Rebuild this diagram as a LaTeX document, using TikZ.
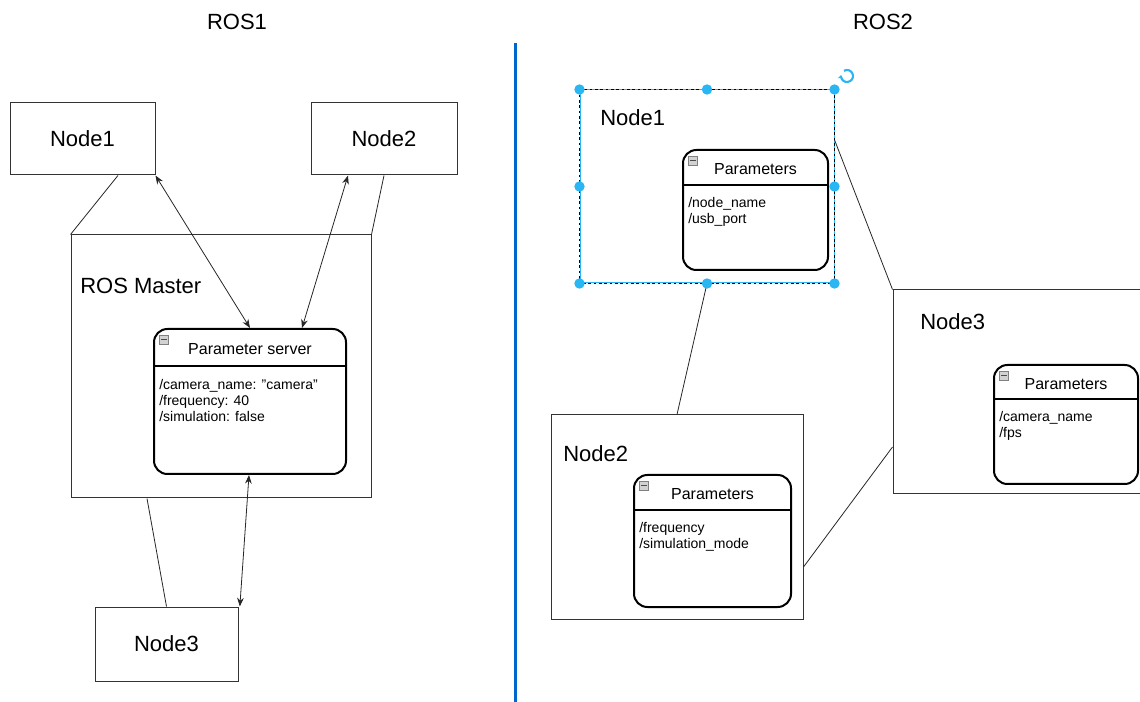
\documentclass[tikz,border=0pt]{standalone}
\usepackage{fontspec}
\setmainfont{Liberation Sans}
\usepackage{tikz}
\usetikzlibrary{arrows.meta}

\definecolor{sepblue}{HTML}{0066CC}
\definecolor{handleblue}{HTML}{29B6F2}

\begin{document}
\begin{tikzpicture}[x=0.75pt,y=-0.75pt,
  box/.style={draw=black!80,line width=0.75pt,inner sep=0pt},
  parambox/.style={draw=black,line width=1.5pt,rounded corners=10pt,inner sep=0pt},
  big/.style={font=\fontsize{16.5}{20}\selectfont},
  ptitle/.style={font=\fontsize{12}{14}\selectfont},
  pitems/.style={font=\fontsize{10.5}{12}\selectfont,align=left,inner sep=0pt,anchor=north west},
  icon/.style={draw=gray,fill=gray!35,minimum size=7pt,inner sep=0pt,anchor=north west,
    path picture={\draw[black!70,line width=0.9pt] ([xshift=1.4pt]path picture bounding box.west) -- ([xshift=-1.4pt]path picture bounding box.east);}},
  biarrow/.style={{Stealth[length=6.5pt,width=5pt]}-{Stealth[length=6.5pt,width=5pt]},black!85,line width=0.6pt},
  link/.style={black!85,line width=0.6pt}]
\useasboundingbox (0,0) rectangle (1140,702);

% titles and separator
\node[big] (ros1) at (237,22) {ROS1};
\node[big] (ros2) at (883,22) {ROS2};
\coordinate (septop) at (515,43);
\coordinate (sepbot) at (515,702);
\draw[sepblue,line width=2.25pt] (septop) -- (sepbot);

% ROS1
\node[box,big,minimum width=108.75pt,minimum height=54pt] (a1) at (82.5,139) {Node1};
\node[box,big,minimum width=109.5pt,minimum height=54pt] (a2) at (384,139) {Node2};
\node[box,minimum width=225pt,minimum height=197.25pt] (m) at (221,366.5) {};
\node[big,anchor=west,inner sep=0pt] (mlabel) at (80,286) {ROS Master};
\node[parambox,minimum width=144pt,minimum height=108.75pt] (ps) at (250,401.5) {};
\draw[line width=1.5pt] ([yshift=-28.5pt]ps.north west) -- ([yshift=-28.5pt]ps.north east);
\node[icon] (psicon) at ([xshift=4.5pt,yshift=-5pt]ps.north west) {};
\node[ptitle] (pstitle) at ([yshift=-16pt]ps.north) {Parameter server};
\node[pitems] (psitems) at ([xshift=4.5pt,yshift=-38pt]ps.north west)
  {/camera\_name: "camera"\\/frequency: 40\\/simulation: false};
\node[box,big,minimum width=107.25pt,minimum height=55.5pt] (a3) at (166.5,644) {Node3};

\draw[link] ([xshift=26.6pt]a1.south) -- (m.north west);
\draw[link] (a2.south) -- (m.north east);
\draw[link] ([xshift=-55.5pt]m.south) -- (a3.north);
\draw[biarrow] (a1.south east) -- (ps.north);
\draw[biarrow] ([xshift=-27pt]a2.south) -- ([xshift=39pt]ps.north);
\draw[biarrow] ([xshift=-0.75pt]ps.south) -- ([xshift=55pt]a3.north);

% ROS2
\node[box,draw=handleblue,minimum width=190.5pt,minimum height=144.75pt] (b1) at (707,186.5) {};
\draw[black,dashed,dash pattern=on 2pt off 2pt,line width=0.6pt] (b1.north west) rectangle (b1.south east);
\node[big,anchor=west,inner sep=0pt] (b1label) at (600,118) {Node1};
\node[parambox,minimum width=108.75pt,minimum height=90pt] (q1) at (755.5,210) {};
\draw[line width=1.5pt] ([yshift=-27pt]q1.north west) -- ([yshift=-27pt]q1.north east);
\node[icon] (q1icon) at ([xshift=4.5pt,yshift=-5pt]q1.north west) {};
\node[ptitle] (q1title) at ([yshift=-15pt]q1.north) {Parameters};
\node[pitems] (q1items) at ([xshift=4.5pt,yshift=-36pt]q1.north west)
  {/node\_name\\/usb\_port};

\node[box,minimum width=189pt,minimum height=153pt] (b2) at (677,517) {};
\node[big,anchor=west,inner sep=0pt] (b2label) at (563,454) {Node2};
\node[parambox,minimum width=117.75pt,minimum height=99pt] (q2) at (712.5,541) {};
\draw[line width=1.5pt] ([yshift=-27pt]q2.north west) -- ([yshift=-27pt]q2.north east);
\node[icon] (q2icon) at ([xshift=4.5pt,yshift=-5pt]q2.north west) {};
\node[ptitle] (q2title) at ([yshift=-15pt]q2.north) {Parameters};
\node[pitems] (q2items) at ([xshift=4.5pt,yshift=-36pt]q2.north west)
  {/frequency\\/simulation\_mode};

\node[box,minimum width=187.5pt,minimum height=153pt] (b3) at (1018,392) {};
\node[big,anchor=west,inner sep=0pt] (b3label) at (920,322) {Node3};
\node[parambox,minimum width=108pt,minimum height=89.25pt] (q3) at (1066,424.5) {};
\draw[line width=1.5pt] ([yshift=-26.25pt]q3.north west) -- ([yshift=-26.25pt]q3.north east);
\node[icon] (q3icon) at ([xshift=4.5pt,yshift=-5pt]q3.north west) {};
\node[ptitle] (q3title) at ([yshift=-14.75pt]q3.north) {Parameters};
\node[pitems] (q3items) at ([xshift=4.5pt,yshift=-35pt]q3.north west)
  {/camera\_name\\/fps};

\draw[link] (b1.south) -- (b2.north);
\draw[link] ([yshift=35pt]b1.east) -- (b3.north west);
\draw[link] ([yshift=-37.5pt]b2.east) -- ([yshift=-41.25pt]b3.west);

% selection handles
\foreach \a in {north west,north,north east,east,south east,south,south west,west}
  \fill[handleblue] (b1.\a) circle (3.9pt);
\coordinate (rot) at (847,76);
\draw[handleblue,line width=1.6pt,-{Stealth[length=3pt,width=4pt]}] ([shift={(120:4.5pt)}]rot) arc (120:-190:4.5pt);
\end{tikzpicture}
\end{document}
